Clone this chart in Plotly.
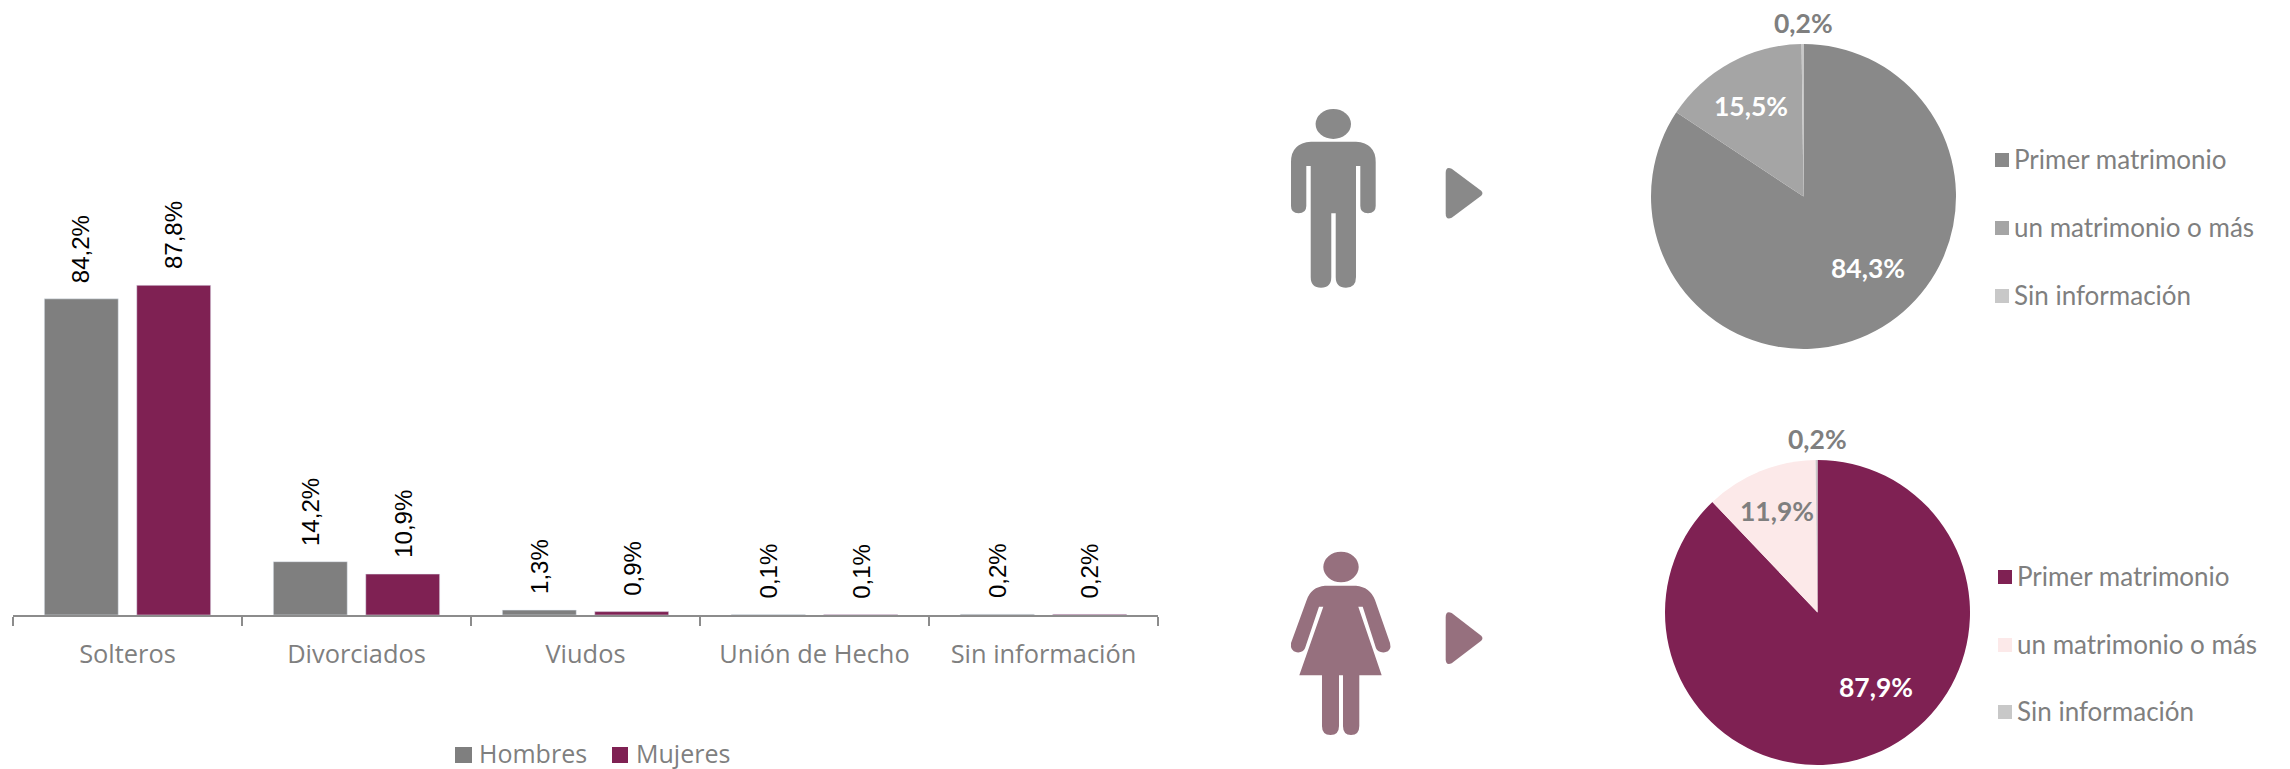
import plotly.graph_objects as go

W, H = 2290, 769

categories = ["Solteros", "Divorciados", "Viudos", "Unión de Hecho", "Sin información"]
series_names = ["Hombres", "Mujeres"]
hombres = [84.2, 14.2, 1.3, 0.1, 0.2]
mujeres = [87.8, 10.9, 0.9, 0.1, 0.2]
pie_labels = ["Primer matrimonio", "un matrimonio o más", "Sin información"]
pie_hombres = [84.3, 15.5, 0.2]
pie_mujeres = [87.9, 11.9, 0.2]

GRAY = "#7f7f7f"
WINE = "#7f2153"
PIE_M = ["#898989", "#a5a5a5", "#c8c8c8"]
PIE_F = ["#7f2153", "#fce9e9", "#c8c8c8"]
ICON_M = "#898989"
ICON_F = "#96707e"
TXT = "#7f7f7f"
BODY_FONT = "Open Sans"
NUM_FONT = "Liberation Sans"
GEO_FONT = "Lato"
BARGAP, GROUPGAP = 0.193, 0.2


def fx(p):
    return p / W


def fy(p):
    return 1 - p / H


def pct(v):
    return f"{v:.1f}".replace(".", ",") + "%"


def path(cmds):
    out = []
    for c in cmds:
        letter, nums = c[0], c[1:]
        vals = [f"{fx(n) if i % 2 == 0 else fy(n):.5f}" for i, n in enumerate(nums)]
        out.append(letter + " " + " ".join(vals))
    return " ".join(out) + " Z"


def shape(cmds, color):
    return dict(type="path", xref="paper", yref="paper", path=path(cmds),
                fillcolor=color, line=dict(width=0), layer="above")


def ellipse(cx, cy, rx, ry, color):
    return dict(type="circle", xref="paper", yref="paper", x0=fx(cx - rx), x1=fx(cx + rx),
                y0=fy(cy + ry), y1=fy(cy - ry), fillcolor=color, line=dict(width=0))


def square(x0, x1, y0, y1, color):
    return dict(type="rect", xref="paper", yref="paper", x0=fx(x0), x1=fx(x1),
                y0=fy(y1), y1=fy(y0), fillcolor=color, line=dict(width=0))


def arrow(x0, x1, ytop, ybot, color):
    ym = (ytop + ybot) / 2
    return shape([("M", x0 + 6, ytop + 1), ("L", x1 - 1.5, ym - 2.5), ("Q", x1 + 1, ym, x1 - 1.5, ym + 2.5),
                  ("L", x0 + 6, ybot - 1), ("Q", x0, ybot + 1.5, x0, ybot - 5),
                  ("L", x0, ytop + 5), ("Q", x0, ytop - 1.5, x0 + 6, ytop + 1)], color)


shapes = []
# man
shapes.append(ellipse(1333.3, 124, 17.7, 15, ICON_M))
shapes.append(shape([
    ("M", 1311, 141.7), ("L", 1356, 141.7), ("Q", 1375.7, 143, 1375.7, 162), ("L", 1375.7, 206),
    ("Q", 1375.7, 213.3, 1368, 213.3), ("Q", 1360.3, 213.3, 1360.3, 206), ("L", 1360.3, 166), ("L", 1356, 166),
    ("L", 1356, 277), ("Q", 1356, 287.7, 1346, 287.7), ("Q", 1335.7, 287.7, 1335.7, 277), ("L", 1335.7, 213.3),
    ("L", 1331.3, 213.3), ("L", 1331.3, 277), ("Q", 1331.3, 287.7, 1321, 287.7), ("Q", 1310.7, 287.7, 1310.7, 277),
    ("L", 1310.7, 166), ("L", 1306.3, 166), ("L", 1306.3, 206), ("Q", 1306.3, 213.3, 1298.5, 213.3),
    ("Q", 1291, 213.3, 1291, 206), ("L", 1291, 162), ("Q", 1291, 143, 1311, 141.7)], ICON_M))
shapes.append(arrow(1445.7, 1482.7, 167.7, 218.7, ICON_M))
# woman
shapes.append(ellipse(1341, 567, 17.7, 15.3, ICON_F))
shapes.append(shape([
    ("M", 1325, 585.7), ("L", 1356, 585.7), ("Q", 1370, 587, 1375, 600), ("L", 1390, 643),
    ("Q", 1392, 651, 1385, 652.3), ("Q", 1378, 653, 1376, 648.3), ("L", 1362.7, 606.7), ("L", 1358.3, 606.7),
    ("L", 1381.7, 675.3), ("L", 1359.3, 675.3), ("L", 1359.3, 726), ("Q", 1359.3, 735, 1351, 735),
    ("Q", 1343, 735, 1343, 726), ("L", 1343, 675.3), ("L", 1339, 675.3), ("L", 1339, 726),
    ("Q", 1339, 735, 1330.5, 735), ("Q", 1322, 735, 1322, 726), ("L", 1322, 675.3),
    ("L", 1299.3, 675.3), ("L", 1323.3, 606.7), ("L", 1319, 606.7), ("L", 1305, 648.3),
    ("Q", 1303, 653, 1296.7, 652.3), ("Q", 1290, 651, 1291, 643), ("L", 1306.7, 600),
    ("Q", 1311, 587, 1325, 585.7)], ICON_F))
shapes.append(arrow(1445.7, 1482.7, 612, 664.3, ICON_F))

annotations = []


def text(x, y, s, size, color, family=GEO_FONT, bold=False, anchor="center"):
    annotations.append(dict(xref="paper", yref="paper", x=fx(x), y=fy(y), text=f"<b>{s}</b>" if bold else s,
                            showarrow=False, xanchor=anchor, yanchor="middle",
                            font=dict(size=size, color=color, family=family)))


# pie value labels
PSZ = 26.5
text(1803, 23, pct(pie_hombres[2]), PSZ, TXT, bold=True)
text(1751, 106, pct(pie_hombres[1]), PSZ, "white", bold=True)
text(1868, 268, pct(pie_hombres[0]), PSZ, "white", bold=True)
text(1817, 439, pct(pie_mujeres[2]), PSZ, TXT, bold=True)
text(1777, 511, pct(pie_mujeres[1]), PSZ, TXT, bold=True)
text(1876, 687, pct(pie_mujeres[0]), PSZ, "white", bold=True)

# pie keys
for lab, col, yy in zip(pie_labels, PIE_M, [160, 228, 296]):
    shapes.append(square(1995, 2009, yy - 7, yy + 7, col))
    text(2012, yy - 1, lab, 26, TXT, anchor="left")
for lab, col, yy in zip(pie_labels, PIE_F, [577, 645, 712]):
    shapes.append(square(1998, 2012, yy - 7, yy + 7, col))
    text(2015, yy - 1, lab, 26, TXT, anchor="left")

# bar key
for name, col, (x0, x1, xt) in zip(series_names, [GRAY, WINE], [(455, 472, 477), (612, 628, 634)]):
    shapes.append(square(x0, x1, 747, 763, col))
    text(xt, 752.5, name, 25, TXT, family=BODY_FONT, anchor="left")

# bar value labels, centred on each bar of the group
slot = (1 - BARGAP) / 2
for i, (a, b) in enumerate(zip(hombres, mujeres)):
    for off, v in ((-slot / 2, a), (slot / 2, b)):
        annotations.append(dict(xref="x", yref="y", x=i + off, y=v, text=pct(v), textangle=-90,
                                showarrow=False, xanchor="center", yanchor="bottom", yshift=14,
                                font=dict(size=24, color="black", family=NUM_FONT)))

fig = go.Figure()
fig.add_bar(name=series_names[0], x=categories, y=hombres, marker_color=GRAY, showlegend=False)
fig.add_bar(name=series_names[1], x=categories, y=mujeres, marker_color=WINE, showlegend=False)

fig.add_pie(labels=pie_labels, values=pie_hombres, sort=False, direction="clockwise", rotation=0,
            marker=dict(colors=PIE_M, line=dict(width=0)), textinfo="none", showlegend=False,
            domain=dict(x=[fx(1803.5 - 152.5), fx(1803.5 + 152.5)], y=[fy(196.5 + 152.5), fy(196.5 - 152.5)]))
fig.add_pie(labels=pie_labels, values=pie_mujeres, sort=False, direction="clockwise", rotation=0,
            marker=dict(colors=PIE_F, line=dict(width=0)), textinfo="none", showlegend=False,
            domain=dict(x=[fx(1817.5 - 152.5), fx(1817.5 + 152.5)], y=[fy(612.5 + 152.5), fy(612.5 - 152.5)]))

BASE = 615
fig.update_layout(
    width=W, height=H, margin=dict(l=0, r=0, t=0, b=0), paper_bgcolor="white", plot_bgcolor="white",
    barmode="group", bargap=BARGAP, bargroupgap=GROUPGAP, shapes=shapes, annotations=annotations,
    showlegend=False,
    xaxis=dict(domain=[fx(13), fx(1158)], type="category", showline=True, linecolor="#8c8c8c", linewidth=2,
               ticks="outside", tickson="boundaries", ticklen=9, tickwidth=1.5, tickcolor="#8c8c8c",
               ticklabelstandoff=16, tickfont=dict(size=25.4, color=TXT, family=BODY_FONT), showgrid=False),
    yaxis=dict(domain=[fy(BASE), fy(BASE - 375.5)], range=[0, 100], visible=False, showgrid=False),
)
fig.write_html("out.html", post_script="document.body.style.margin='0';", config=dict(displayModeBar=False))
